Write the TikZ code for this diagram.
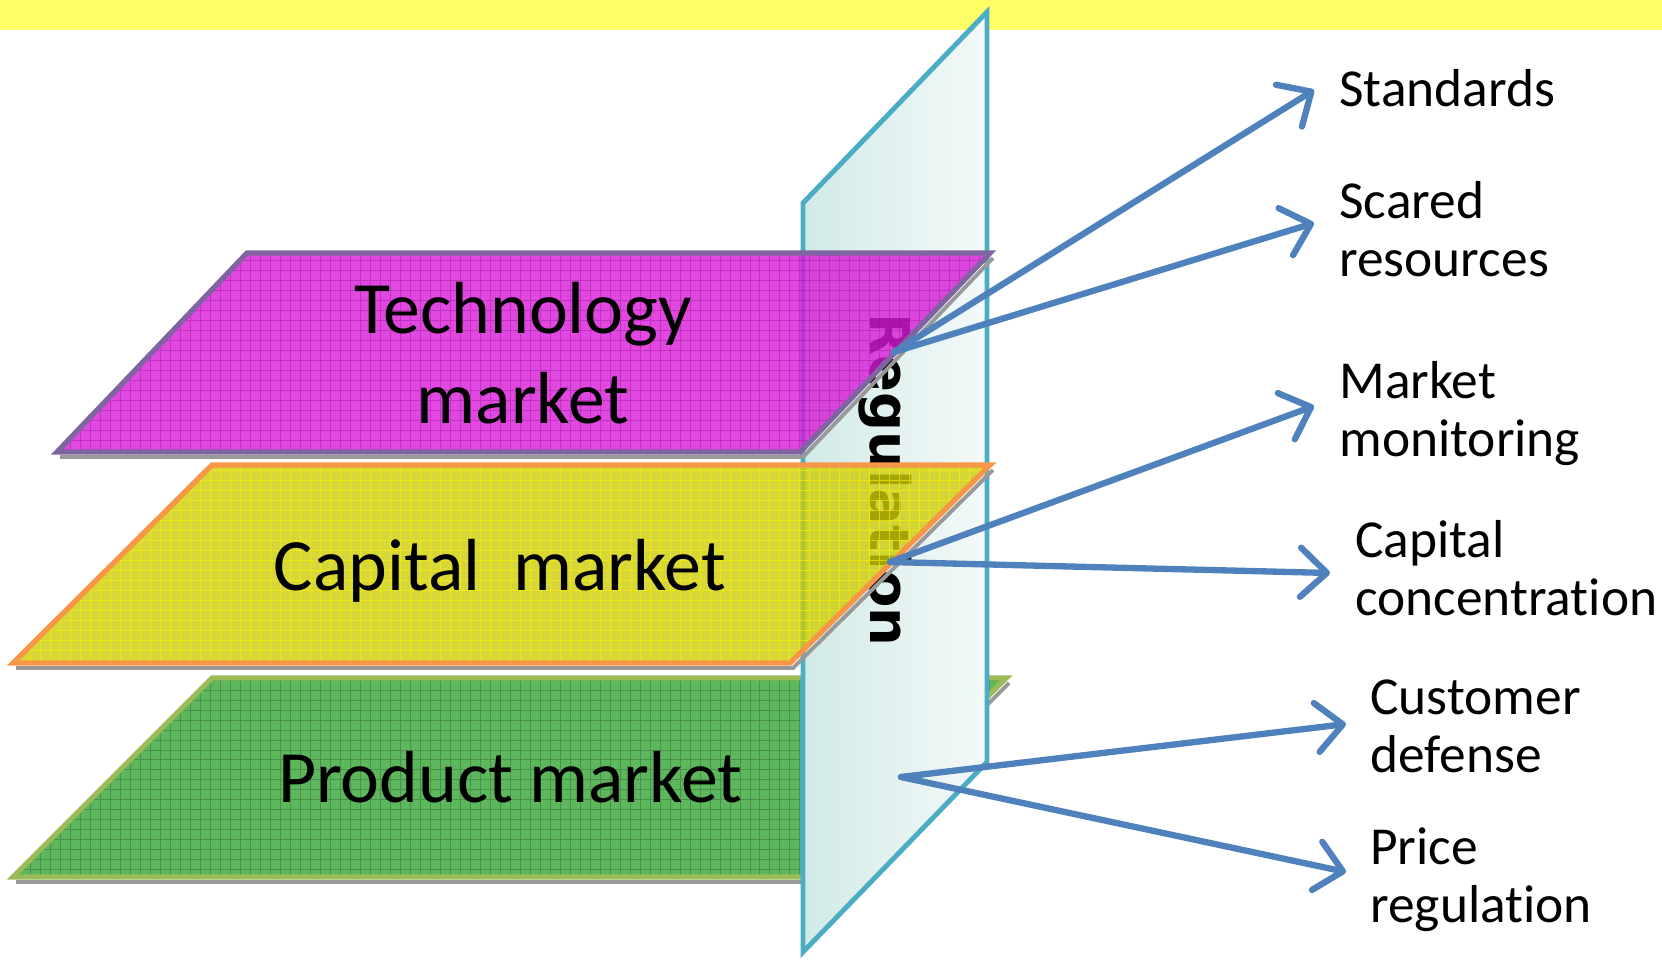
\documentclass[tikz,border=0pt]{standalone}
\usepackage{fontspec}
\setmainfont{Carlito}[Ligatures=NoCommon]
\newfontfamily\regfont{DejaVu Sans}
\usetikzlibrary{arrows.meta}
\usetikzlibrary{positioning}

\definecolor{bandyellow}{HTML}{FFFF66}
\definecolor{techfill}{HTML}{D81AD8}
\definecolor{techline}{HTML}{8064A2}
\definecolor{capfill}{HTML}{CDCD08}
\definecolor{capline}{HTML}{F79646}
\definecolor{prodfill}{HTML}{5DB85D}
\definecolor{prodline}{HTML}{9BBB59}
\definecolor{regfill}{HTML}{D2EAE7}
\definecolor{regline}{HTML}{4BACC6}
\definecolor{arrowblue}{HTML}{4F81BD}

\begin{document}
\begin{tikzpicture}[x=0.02cm,y=-0.02cm,
    layer/.style={line width=3pt,line join=miter},
    texture/.style={line width=0.4pt,step=0.2cm},
    castshadow/.style={gray!80,line width=2.2pt},
    marketlabel/.style={align=center,anchor=base,inner sep=0pt,font=\fontsize{42}{51}\selectfont},
    sidelabel/.style={align=left,anchor=base west,inner sep=0pt,font=\fontsize{30.4}{33}\selectfont},
    link/.style={arrowblue,line width=3.6pt,line cap=round,-{Straight Barb[length=15pt,width=28pt,round]}}]

  \useasboundingbox (0,0) rectangle (1662,960);
  \fill[bandyellow] (0,0) rectangle (1662,30);

  \coordinate (tech-nw) at (247,253);
  \coordinate (tech-ne) at (990,253);
  \coordinate (tech-se) at (800,452);
  \coordinate (tech-sw) at (57,452);
  \coordinate (cap-nw) at (212,465);
  \coordinate (cap-ne) at (990,465);
  \coordinate (cap-se) at (790,663);
  \coordinate (cap-sw) at (13,663);
  \coordinate (prod-nw) at (212,678);
  \coordinate (prod-ne) at (1006,678);
  \coordinate (prod-se) at (807,877);
  \coordinate (prod-sw) at (13,877);
  \coordinate (reg-nw) at (803,203);
  \coordinate (reg-ne) at (987,12);
  \coordinate (reg-se) at (987,762);
  \coordinate (reg-sw) at (803,952);

  \draw[castshadow] ([shift={(3,5)}]prod-sw) -- ([shift={(3,5)}]prod-se) -- ([shift={(3,5)}]prod-ne);
  \begin{scope}
    \clip (prod-nw) -- (prod-ne) -- (prod-se) -- (prod-sw) -- cycle;
    \fill[prodfill] (0,670) rectangle (1010,880);
    \draw[texture,prodfill!60!black,opacity=0.5] (0,670) grid (1010,880);
  \end{scope}
  \draw[layer,prodline] (prod-nw) -- (prod-ne) -- (prod-se) -- (prod-sw) -- cycle;
  \node[marketlabel] (prod) at (510,802) {Product market};

  \draw[regline,line width=2.8pt,line join=miter,left color=regfill,right color=regfill!25!white]
    (reg-nw) -- (reg-ne) -- (reg-se) -- (reg-sw) -- cycle;
  \node[rotate=-90,anchor=base,inner sep=0pt,font=\regfont\bfseries\fontsize{31}{31}\selectfont] (reg) at (870,480) {Regulation};

  \draw[castshadow] ([shift={(3,5)}]cap-sw) -- ([shift={(3,5)}]cap-se) -- ([shift={(3,5)}]cap-ne);
  \begin{scope}
    \clip (cap-nw) -- (cap-ne) -- (cap-se) -- (cap-sw) -- cycle;
    \fill[capfill,fill opacity=0.8] (0,460) rectangle (1000,670);
    \draw[texture,yellow,opacity=0.6] (0,460) grid (1000,670);
  \end{scope}
  \draw[layer,capline] (cap-nw) -- (cap-ne) -- (cap-se) -- (cap-sw) -- cycle;
  \node[marketlabel] (cap) at (500,590) {Capital~ market};

  \draw[castshadow] ([shift={(3,5)}]tech-sw) -- ([shift={(3,5)}]tech-se) -- ([shift={(3,5)}]tech-ne);
  \begin{scope}
    \clip (tech-nw) -- (tech-ne) -- (tech-se) -- (tech-sw) -- cycle;
    \fill[techfill,fill opacity=0.8] (0,245) rectangle (1000,460);
    \draw[texture,techfill!70!black,opacity=0.4] (0,245) grid (1000,460);
  \end{scope}
  \draw[layer,techline] (tech-nw) -- (tech-ne) -- (tech-se) -- (tech-sw) -- cycle;
  \node[marketlabel] (tech) at (523,423) {Technology\\market};

  \coordinate (techsrc) at (894,352);
  \coordinate (capsrc) at (890,562);
  \coordinate (prodsrc) at (901,777);

  \node[sidelabel] (std) at (1339,106) {Standards};
  \node[sidelabel] (scr) at (1339,276) {Scared\\resources};
  \node[sidelabel] (mon) at (1339,456) {Market\\monitoring};
  \node[sidelabel] (conc) at (1355,615) {Capital\\concentration};
  \node[sidelabel] (cust) at (1370,772) {Customer\\defense};
  \node[sidelabel] (price) at (1370,922) {Price\\regulation};

  \draw[link] (techsrc) -- ([shift={(-25,-16)}]std.base west);
  \draw[link] (techsrc) -- ([shift={(-25,-53)}]scr.base west);
  \draw[link] (capsrc) -- ([shift={(-25,-50)}]mon.base west);
  \draw[link] (capsrc) -- ([shift={(-25,-42)}]conc.base west);
  \draw[link] (prodsrc) -- ([shift={(-24,-48)}]cust.base west);
  \draw[link] (prodsrc) -- ([shift={(-24,-50)}]price.base west);
\end{tikzpicture}
\end{document}
